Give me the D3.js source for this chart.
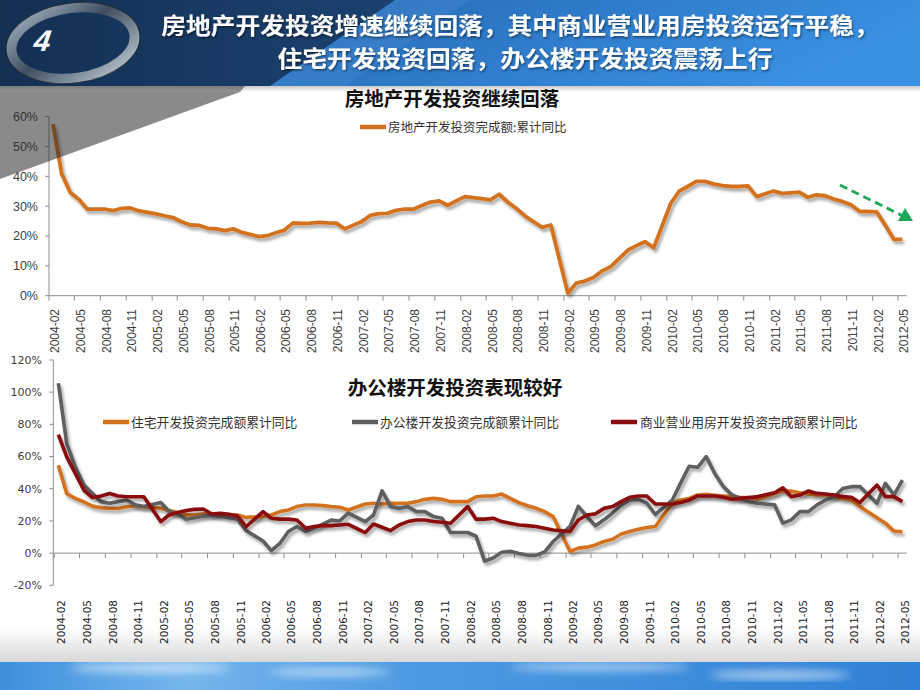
<!DOCTYPE html>
<html><head><meta charset="utf-8">
<script src="https://cdn.jsdelivr.net/npm/d3@7"></script>
<style>body{margin:0;background:#fff;overflow:hidden}svg{display:block}</style>
</head><body>
<script>
// ---------- DATA ----------
const months = [
"2004-02","2004-03","2004-04","2004-05","2004-06","2004-07","2004-08","2004-09","2004-10","2004-11","2004-12",
"2005-02","2005-03","2005-04","2005-05","2005-06","2005-07","2005-08","2005-09","2005-10","2005-11","2005-12",
"2006-02","2006-03","2006-04","2006-05","2006-06","2006-07","2006-08","2006-09","2006-10","2006-11","2006-12",
"2007-02","2007-03","2007-04","2007-05","2007-06","2007-07","2007-08","2007-09","2007-10","2007-11","2007-12",
"2008-02","2008-03","2008-04","2008-05","2008-06","2008-07","2008-08","2008-09","2008-10","2008-11","2008-12",
"2009-02","2009-03","2009-04","2009-05","2009-06","2009-07","2009-08","2009-09","2009-10","2009-11","2009-12",
"2010-02","2010-03","2010-04","2010-05","2010-06","2010-07","2010-08","2010-09","2010-10","2010-11","2010-12",
"2011-02","2011-03","2011-04","2011-05","2011-06","2011-07","2011-08","2011-09","2011-10","2011-11","2011-12",
"2012-02","2012-03","2012-04","2012-05"];

const tickLabels = ["2004-02","2004-05","2004-08","2004-11","2005-02","2005-05","2005-08","2005-11",
"2006-02","2006-05","2006-08","2006-11","2007-02","2007-05","2007-08","2007-11","2008-02","2008-05","2008-08","2008-11",
"2009-02","2009-05","2009-08","2009-11","2010-02","2010-05","2010-08","2010-11","2011-02","2011-05","2011-08","2011-11",
"2012-02","2012-05"];

// 房地产开发投资完成额:累计同比 (%)
const realEstate = [
57.5,41.0,34.7,32.3,29.0,29.0,29.0,28.5,29.3,29.4,28.4,
27.4,26.8,26.2,24.8,23.7,23.6,22.6,22.4,21.8,22.4,21.2,
19.8,20.1,21.1,22.0,24.4,24.2,24.3,24.6,24.4,24.3,22.4,
24.9,26.9,27.5,27.6,28.6,29.0,29.0,30.2,31.4,31.8,30.3,
33.2,32.9,32.5,32.1,34.0,31.4,29.2,26.7,24.8,22.9,23.7,
0.8,4.2,4.9,6.1,8.3,9.7,12.5,15.3,16.8,18.1,16.1,
31.0,35.0,36.6,38.3,38.3,37.5,36.9,36.6,36.6,36.8,33.2,
35.1,34.3,34.5,34.7,33.0,33.8,33.5,32.4,31.6,30.5,28.3,
28.1,23.7,18.9,18.9];

// 住宅开发投资完成额累计同比
const residential = [
54.6,36.9,34.0,31.8,29.2,28.2,27.7,27.7,28.8,29.4,28.8,
27.9,26.4,25.2,23.7,23.7,24.3,24.3,24.3,23.7,23.7,22.2,
22.7,23.7,25.8,26.8,28.9,29.9,29.9,29.5,28.9,28.5,26.8,
30.5,31.0,30.5,31.0,31.0,31.0,32.0,33.4,34.0,33.4,32.0,
32.0,35.0,35.5,35.5,36.7,34.0,31.4,29.4,27.9,25.8,22.7,
1.0,3.1,3.7,5.1,7.2,8.6,11.9,13.4,14.8,15.9,16.5,
31.0,33.0,34.0,36.1,36.5,36.0,35.5,35.0,34.5,34.5,33.5,
37.0,38.7,38.5,37.5,36.7,36.1,36.1,35.0,34.0,33.0,29.0,
22.0,18.6,13.7,13.3];

// 办公楼开发投资完成额累计同比
const office = [
105.6,68.0,53.6,42.3,37.1,32.0,31.0,32.0,33.0,30.0,29.0,
31.4,26.0,24.4,21.0,22.0,23.0,23.5,23.0,22.0,21.0,14.0,
7.5,1.5,6.0,13.4,16.5,13.4,15.5,18.0,20.5,20.0,24.8,
19.6,23.7,38.7,28.9,27.8,28.9,25.8,25.8,22.7,21.7,12.8,
12.8,10.5,-5.0,-3.0,0.5,1.2,-0.2,-1.4,-1.4,0.7,7.2,
16.6,29.0,22.7,17.0,20.7,24.9,30.0,33.0,33.4,31.0,24.0,
33.0,43.5,54.0,53.3,60.0,49.5,41.3,36.1,34.0,32.0,31.0,
30.0,18.6,20.7,25.8,25.8,30.0,33.0,35.0,40.2,41.3,41.3,
31.0,43.3,36.1,45.4];

// 商业营业用房开发投资完成额累计同比
const commercial = [
73.6,59.8,49.5,39.2,34.5,35.5,37.1,35.5,35.0,35.0,35.0,
19.6,23.7,25.3,26.4,27.2,27.4,24.3,24.7,24.1,23.0,16.4,
25.8,21.7,21.1,21.1,20.6,15.5,16.5,17.1,17.1,17.5,17.9,
12.8,18.1,16.1,14.0,17.5,19.6,20.6,20.6,19.6,19.2,18.6,
28.9,21.1,21.1,21.7,19.6,18.6,17.5,17.1,16.5,15.5,14.4,
13.4,20.6,23.7,24.4,27.8,28.9,32.0,34.7,35.5,35.5,30.5,
30.5,31.4,33.0,35.5,35.5,35.5,34.7,33.5,34.0,34.5,35.1,
37.5,40.6,35.1,36.1,38.6,37.1,36.7,36.1,35.1,34.7,31.4,
42.3,35.1,35.1,32.0];

const topYTicks = [0,10,20,30,40,50,60];
const botYTicks = [-20,0,20,40,60,80,100,120];

const mainTitle1 = "房地产开发投资增速继续回落，其中商业营业用房投资运行平稳，";
const mainTitle2 = "住宅开发投资回落，办公楼开发投资震荡上行";
const topTitle = "房地产开发投资继续回落";
const botTitle = "办公楼开发投资表现较好";
const topLegend = "房地产开发投资完成额:累计同比";
const botLegend = ["住宅开发投资完成额累计同比","办公楼开发投资完成额累计同比","商业营业用房开发投资完成额累计同比"];

// ---------- DRAW ----------
const W=920,H=690;
const C_OR="#D4711F", C_GR="#5E5E5E", C_RD="#8A0B0B";
const svg=d3.select("body").append("svg").attr("width",W).attr("height",H);
const defs=svg.append("defs");

// gradients
const g1=defs.append("linearGradient").attr("id","hdr").attr("x1",0).attr("x2",1).attr("y1",0).attr("y2",0);
[["0%","#142f52"],["35%","#1a3f6c"],["100%","#20508a"]].forEach(s=>g1.append("stop").attr("offset",s[0]).attr("stop-color",s[1]));
const g2=defs.append("linearGradient").attr("id","hdr2").attr("x1",0).attr("x2",1).attr("y1",0).attr("y2",0.3);
[["0%","#2a6db4"],["30%","#2b74c2"],["100%","#3a90e2"]].forEach(s=>g2.append("stop").attr("offset",s[0]).attr("stop-color",s[1]));
const g3=defs.append("linearGradient").attr("id","ring").attr("x1",0).attr("x2",1).attr("y1",0).attr("y2",1);
[["0%","#a9b8c6"],["45%","#3f4f60"],["100%","#c3ced8"]].forEach(s=>g3.append("stop").attr("offset",s[0]).attr("stop-color",s[1]));
const g4=defs.append("linearGradient").attr("id","foot").attr("x1",0).attr("x2",1).attr("y1",0).attr("y2",0);
[["0%","#3d8fdc"],["20%","#74b6ec"],["45%","#4e9ae2"],["100%","#2f80d6"]].forEach(s=>g4.append("stop").attr("offset",s[0]).attr("stop-color",s[1]));
const g5=defs.append("linearGradient").attr("id","fshade").attr("x1",0).attr("x2",0).attr("y1",0).attr("y2",1);
[["0%","#ffffff"],["100%","#d8d8d8"]].forEach(s=>g5.append("stop").attr("offset",s[0]).attr("stop-color",s[1]));
const g6=defs.append("linearGradient").attr("id","hshade").attr("x1",0).attr("x2",0).attr("y1",0).attr("y2",1);
[["0%","#c9c9c9"],["100%","#ffffff"]].forEach(s=>g6.append("stop").attr("offset",s[0]).attr("stop-color",s[1]));

const f=defs.append("filter").attr("id","sh").attr("filterUnits","userSpaceOnUse").attr("x",0).attr("y",0).attr("width",W).attr("height",H);
f.append("feGaussianBlur").attr("in","SourceAlpha").attr("stdDeviation",1.6).attr("result","b");
f.append("feOffset").attr("in","b").attr("dx",2).attr("dy",3).attr("result","o");
f.append("feComponentTransfer").attr("in","o").attr("result","a").append("feFuncA").attr("type","linear").attr("slope",0.35);
const fm=f.append("feMerge"); fm.append("feMergeNode").attr("in","a"); fm.append("feMergeNode").attr("in","SourceGraphic");
const ft=defs.append("filter").attr("id","tsh");
ft.append("feDropShadow").attr("dx",1).attr("dy",1.5).attr("stdDeviation",1).attr("flood-color","#000").attr("flood-opacity",0.5);
const fb=defs.append("filter").attr("id","blur"); fb.append("feGaussianBlur").attr("stdDeviation",4);

// header
svg.append("rect").attr("x",0).attr("y",0).attr("width",W).attr("height",86).attr("fill","url(#hdr)");
svg.append("polygon").attr("points","395,0 920,0 920,86 270,86").attr("fill","url(#hdr2)");
svg.append("polygon").attr("points","395,0 470,0 345,86 270,86").attr("fill","#4a8cd0").attr("opacity",0.35);
svg.append("rect").attr("x",0).attr("y",86).attr("width",W).attr("height",6).attr("fill","url(#hshade)");
// ring logo
svg.append("ellipse").attr("cx",73).attr("cy",43).attr("rx",62).attr("ry",35).attr("transform","rotate(-8,73,43)")
  .attr("fill","none").attr("stroke","url(#ring)").attr("stroke-width",10);
svg.append("ellipse").attr("cx",73).attr("cy",43).attr("rx",67.5).attr("ry",40).attr("transform","rotate(-8,73,43)")
  .attr("fill","none").attr("stroke","#1c2630").attr("stroke-width",1.2).attr("opacity",0.7);
svg.append("text").attr("x",40).attr("y",51).attr("fill","#fff").attr("font-family","Liberation Sans, Arial")
  .attr("font-weight",700).attr("font-style","italic").attr("font-size",30).attr("transform","skewX(-8)").text("4");

const cjk="'Noto Sans CJK SC','Noto Sans',sans-serif";
[[mainTitle1,520,34],[mainTitle2,525,67]].forEach(t=>{
  svg.append("text").attr("transform",`translate(${t[1]},${t[2]}) scale(1.1,1)`).attr("text-anchor","middle")
    .attr("fill","#fff").attr("filter","url(#tsh)").attr("font-family",cjk).attr("font-weight",700)
    .attr("font-size",22.5).text(t[0]);
});

// footer
svg.append("rect").attr("x",0).attr("y",628).attr("width",W).attr("height",34).attr("fill","url(#fshade)");
svg.append("rect").attr("x",0).attr("y",662).attr("width",W).attr("height",28).attr("fill","url(#foot)");
const cl=svg.append("g").attr("filter","url(#blur)").attr("opacity",0.55);
[[150,668,80,5],[330,672,60,4],[600,667,90,4],[780,675,70,5]].forEach(c=>cl.append("ellipse").attr("cx",c[0]).attr("cy",c[1]).attr("rx",c[2]).attr("ry",c[3]).attr("fill","#ffffff"));

const parse=d3.timeParse("%Y-%m");
const dom=[parse("2004-02"),parse("2012-06")];
const axisCol="#8e8e8e", labCol="#404040";
const latin="'Liberation Sans',Arial,sans-serif";

function center(x,m){const d=parse(m);return (x(d)+x(d3.timeMonth.offset(d,1)))/2;}

// ===== TOP CHART =====
const xT=d3.scaleTime().domain(dom).range([49,906.7]);
const yT=d3.scaleLinear().domain([0,60]).range([295.7,116.7]);
const gt=svg.append("g");
gt.append("text").attr("x",452).attr("y",106).attr("text-anchor","middle").attr("font-family",cjk).attr("font-weight",700)
  .attr("font-size",19.5).attr("fill","#111").text(topTitle);
gt.append("line").attr("x1",360).attr("x2",386).attr("y1",127).attr("y2",127).attr("stroke",C_OR).attr("stroke-width",4.5);
gt.append("text").attr("x",388).attr("y",131.5).attr("font-family",cjk).attr("font-size",12.5).attr("fill","#333").text(topLegend);
// y axis
gt.append("line").attr("x1",49).attr("x2",49).attr("y1",yT(60)).attr("y2",yT(0)).attr("stroke",axisCol);
topYTicks.forEach(v=>{
  gt.append("line").attr("x1",45).attr("x2",49).attr("y1",yT(v)).attr("y2",yT(v)).attr("stroke",axisCol);
  gt.append("text").attr("x",38).attr("y",yT(v)).attr("dy","0.35em").attr("text-anchor","end").attr("font-family",latin)
    .attr("font-size",12.5).attr("fill",labCol).text(v+"%");
});
// x axis
gt.append("line").attr("x1",xT(dom[0])).attr("x2",xT(dom[1])).attr("y1",yT(0)).attr("y2",yT(0)).attr("stroke",axisCol);
tickLabels.forEach(t=>{
  const x=xT(parse(t));
  gt.append("line").attr("x1",x).attr("x2",x).attr("y1",yT(0)).attr("y2",yT(0)+5).attr("stroke",axisCol);
  gt.append("text").attr("transform",`translate(${center(xT,t)+6},309) rotate(-90)`).attr("text-anchor","end")
    .attr("font-family",latin).attr("font-size",12).attr("fill",labCol).text(t);
});
const lineT=d3.line().x((d,i)=>center(xT,months[i])).y(d=>yT(d));
gt.append("path").datum(realEstate).attr("d",lineT).attr("fill","none").attr("stroke",C_OR).attr("stroke-width",3.8)
  .attr("stroke-linejoin","round").attr("filter","url(#sh)");
// green trend arrow
gt.append("line").attr("x1",840).attr("y1",185).attr("x2",903).attr("y2",216).attr("stroke","#1fa85a").attr("stroke-width",3)
  .attr("stroke-dasharray","8,5");
gt.append("polygon").attr("points","913,221 898,221 905,208").attr("fill","#1fa85a");

// gray overlay triangle
svg.append("polygon").attr("points","0,92 240,92 0,179").attr("fill","#2a2a2a").attr("opacity",0.55);
svg.append("polygon").attr("points","0,86 245,86 240,92 0,92").attr("fill","#4a4a4a").attr("opacity",0.6);

// ===== BOTTOM CHART =====
const xB=d3.scaleTime().domain(dom).range([54.3,906.8]);
const yB=d3.scaleLinear().domain([-20,120]).range([585.3,360]);
const gb=svg.append("g");
gb.append("text").attr("x",455).attr("y",395).attr("text-anchor","middle").attr("font-family",cjk).attr("font-weight",700)
  .attr("font-size",19.5).attr("fill","#111").text(botTitle);
const legX=[[103,131],[352,380],[611,640]], legC=[C_OR,C_GR,C_RD];
botLegend.forEach((t,i)=>{
  gb.append("line").attr("x1",legX[i][0]).attr("x2",legX[i][0]+26).attr("y1",422).attr("y2",422).attr("stroke",legC[i]).attr("stroke-width",4.5);
  gb.append("text").attr("x",legX[i][1]).attr("y",427).attr("font-family",cjk).attr("font-size",12.8).attr("fill","#333").text(t);
});
gb.append("line").attr("x1",53.3).attr("x2",53.3).attr("y1",yB(120)).attr("y2",yB(-20)).attr("stroke",axisCol);
botYTicks.forEach(v=>{
  gb.append("line").attr("x1",49.3).attr("x2",53.3).attr("y1",yB(v)).attr("y2",yB(v)).attr("stroke",axisCol);
  gb.append("text").attr("x",42).attr("y",yB(v)).attr("dy","0.35em").attr("text-anchor","end").attr("font-family","'DejaVu Sans',sans-serif")
    .attr("font-size",11).attr("fill",labCol).text(v+"%");
});
gb.append("line").attr("x1",xB(dom[0])).attr("x2",xB(dom[1])).attr("y1",yB(0)).attr("y2",yB(0)).attr("stroke",axisCol);
tickLabels.forEach(t=>{
  const x=xB(parse(t));
  gb.append("line").attr("x1",x).attr("x2",x).attr("y1",yB(0)).attr("y2",yB(0)+5).attr("stroke",axisCol);
  gb.append("text").attr("transform",`translate(${center(xB,t)+7},600) rotate(-90)`).attr("text-anchor","end")
    .attr("font-family","'DejaVu Sans',sans-serif").attr("font-size",10.5).attr("fill","#222").text(t);
});
const lineB=d3.line().x((d,i)=>center(xB,months[i])).y(d=>yB(d));
[[residential,C_OR],[office,C_GR],[commercial,C_RD]].forEach(s=>{
  gb.append("path").datum(s[0]).attr("d",lineB).attr("fill","none").attr("stroke",s[1]).attr("stroke-width",3.6)
    .attr("stroke-linejoin","round").attr("filter","url(#sh)");
});
</script>
</body></html>
